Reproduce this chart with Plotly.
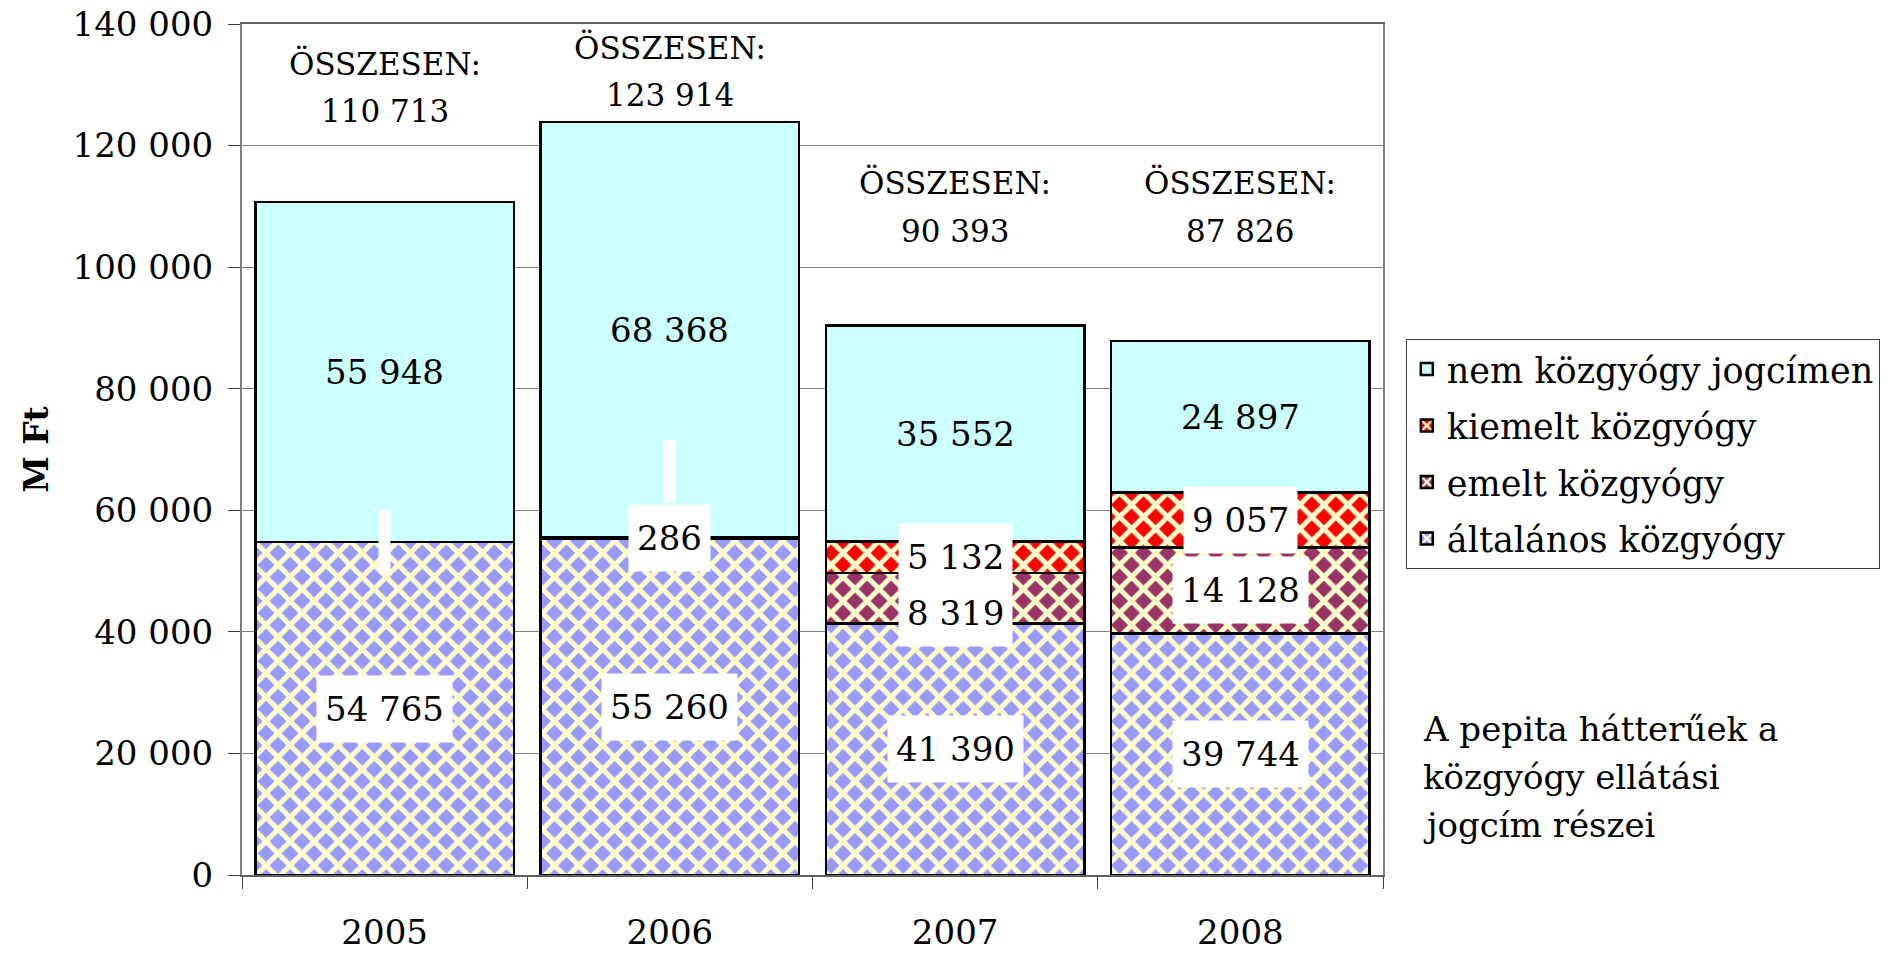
import plotly.graph_objects as go

years = ["2005", "2006", "2007", "2008"]
altalanos = [54765, 55260, 41390, 39744]
emelt = [0, 286, 8319, 14128]
kiemelt = [0, 0, 5132, 9057]
nem = [55948, 68368, 35552, 24897]
totals = [110713, 123914, 90393, 87826]
total_label_y = [129600, 132200, 109900, 109900]

FONT = "DejaVu Serif"
FS = 34
YELLOW = "#FFFFCC"


def fmt(v):
    return f"{v:,}".replace(",", " ")


series = [
    ("általános közgyógy", altalanos, "#9999FF", True),
    ("emelt közgyógy", emelt, "#993366", True),
    ("kiemelt közgyógy", kiemelt, "#FF0000", True),
    ("nem közgyógy jogcímen", nem, "#CCFFFF", False),
]

fig = go.Figure()
for k, (name, vals, col, patt) in enumerate(series):
    marker = dict(color=col, line=dict(color="black", width=2.5))
    if patt:
        marker["pattern"] = dict(shape="x", fgcolor=YELLOW, bgcolor=col,
                                 size=17, solidity=0.5, fillmode="replace",
                                 fgopacity=1)
    fig.add_trace(go.Bar(x=years, y=vals, name=name, marker=marker,
                         legendgroup=name, legendrank=len(series) - k))

annotations = []
# segment value labels
for i, yr in enumerate(years):
    base = 0
    for name, vals, col, patt in series:
        v = vals[i]
        if v > 0:
            annotations.append(dict(
                xref="x", yref="y", x=i, y=base + v / 2, text=fmt(v), showarrow=False,
                font=dict(family=FONT, size=FS, color="black"),
                bgcolor="white" if patt else "rgba(0,0,0,0)",
                borderpad=8 if patt else 0, height=50 if patt else None,
                yshift=-15 if (yr == "2007" and name == "emelt közgyógy") else 0,
            ))
        base += v

# empty label boxes for zero-valued segments (white strips)
for i, yr in enumerate(years):
    base = altalanos[i] + emelt[i]
    if kiemelt[i] == 0:
        shift = 66 if emelt[i] > 0 else 0
        annotations.append(dict(
            xref="x", yref="y", x=i, y=base, text=" ", showarrow=False,
            width=1, height=52,
            font=dict(family=FONT, size=FS), bgcolor="white", borderpad=5,
            yshift=shift,
        ))

# totals
for i, yr in enumerate(years):
    for txt, sh in (("ÖSSZESEN:", 24), (fmt(totals[i]), -24)):
        annotations.append(dict(
            xref="x", yref="y", x=i, y=total_label_y[i], yshift=sh,
            text=txt, showarrow=False,
            font=dict(family=FONT, size=31, color="black"),
        ))

note_lines = ["A pepita hátterűek a", "közgyógy ellátási", "jogcím részei"]
for k, line in enumerate(note_lines):
    annotations.append(dict(
        xref="paper", yref="paper", x=1.033, y=0.115, xanchor="left",
        yanchor="middle", yshift=(1 - k) * 48,
        text=line, showarrow=False, align="left",
        font=dict(family=FONT, size=34, color="black"),
    ))

fig.update_layout(
    width=1897, height=953,
    barmode="stack", bargap=0.093,
    paper_bgcolor="white", plot_bgcolor="white",
    margin=dict(l=242, r=514, t=24, b=78, autoexpand=False),
    separators=". ",
    font=dict(family=FONT, size=FS, color="black"),
    showlegend=True,
    legend=dict(
        x=1.02, y=0.63, xanchor="left", yanchor="top",
        traceorder="grouped", tracegroupgap=8,
        bordercolor="#404040", borderwidth=1,
        font=dict(family=FONT, size=35, color="black"),
        bgcolor="white",
    ),
    annotations=annotations,
)
fig.update_yaxes(
    range=[0, 140000], dtick=20000, tickformat=",d",
    showgrid=True, gridcolor="#808080", gridwidth=1,
    showline=True, linecolor="#808080", linewidth=2, mirror=True,
    ticks="outside", ticklen=12, tickcolor="#404040", ticklabelstandoff=8,
    tickfont=dict(family=FONT, size=34, color="black"),
    title=dict(text="<b>M Ft</b>", font=dict(family=FONT, size=33), standoff=14),
    zeroline=False, automargin=False,
)
fig.update_xaxes(
    type="category", range=[-0.5, len(years) - 0.5], autorange=False,
    showline=True, linecolor="#606060", linewidth=2, mirror=True,
    ticks="outside", ticklen=12, tickson="boundaries", tickcolor="#404040",
    ticklabelstandoff=26, automargin=False,
    tickfont=dict(family=FONT, size=34, color="black"),
)

fig.write_html("out.html",
               config={"displayModeBar": False},
               post_script="document.body.style.margin='0';"
                           "document.body.style.overflow='hidden';")
